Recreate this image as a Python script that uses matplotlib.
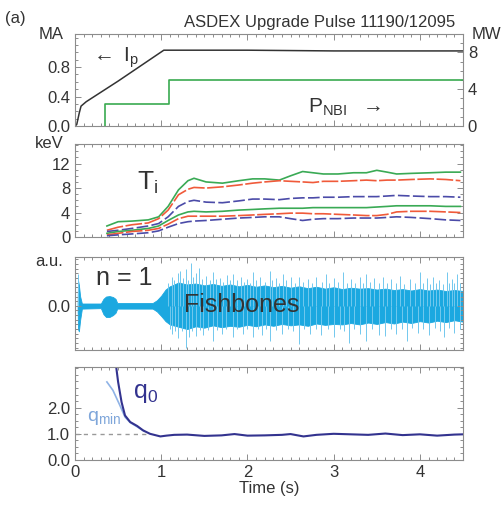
import numpy as np
import matplotlib
matplotlib.use("Agg")
import matplotlib.pyplot as plt
from matplotlib.ticker import MultipleLocator

plt.rcParams['font.family'] = ['Liberation Sans', 'DejaVu Sans']
plt.rcParams['mathtext.default'] = 'regular'

# ---- panel 1: plasma current and NBI power ----
ip_t = [0.0, 0.02, 0.05, 0.07, 0.13, 0.5, 1.03, 1.06, 2.0, 3.0, 4.5]
ip_ma = [0.0, 0.02, 0.18, 0.27, 0.33, 0.61, 1.03, 1.03, 1.03, 1.02, 1.02]
nbi_t = [0.35, 0.35, 1.09, 4.5]
nbi_mw = [0.0, 2.4, 5.0, 5.0]

# ---- panel 2: ion temperatures ----
ti_t = [0.37, 0.5, 0.66, 0.85, 0.97, 1.08, 1.2, 1.31, 1.38, 1.52, 1.71, 1.9,
        2.06, 2.2, 2.37, 2.5, 2.64, 2.76, 2.88, 3.05, 3.23, 3.38, 3.5, 3.62,
        3.73, 3.9, 4.12, 4.3, 4.47]
ti_green_hi = [1.8, 2.5, 2.6, 2.8, 3.3, 5.0, 7.7, 9.2, 9.6, 9.0, 8.8, 9.2,
               9.5, 9.5, 9.3, 10.0, 10.7, 10.5, 10.3, 10.3, 10.5, 10.5, 10.9,
               10.6, 10.3, 10.4, 10.5, 10.6, 10.6]
ti_red_hi = [1.1, 1.6, 2.0, 2.3, 3.0, 4.4, 6.9, 7.8, 8.1, 8.0, 8.2, 8.5, 8.8,
             9.0, 9.2, 9.1, 9.0, 8.9, 9.1, 9.1, 9.2, 9.3, 9.2, 9.3, 9.3, 9.4,
             9.5, 9.4, 9.2]
ti_blue_hi = [0.9, 1.1, 1.4, 1.8, 2.2, 3.3, 5.0, 5.8, 6.0, 5.7, 5.6, 5.9, 6.2,
              6.2, 6.1, 6.3, 6.4, 6.4, 6.5, 6.5, 6.6, 6.6, 6.6, 6.7, 6.8, 6.7,
              6.6, 6.6, 6.5]
ti_green_lo = [0.6, 0.9, 1.1, 1.4, 1.8, 2.7, 3.6, 4.1, 4.2, 4.1, 4.2, 4.4, 4.5,
               4.6, 4.7, 4.7, 4.7, 4.8, 4.8, 4.8, 4.8, 4.8, 4.9, 5.0, 5.1, 5.1,
               5.1, 5.0, 5.0]
ti_red_lo = [0.35, 0.6, 0.9, 1.1, 1.4, 2.1, 3.0, 3.4, 3.4, 3.4, 3.4, 3.5, 3.6,
             3.7, 3.8, 3.9, 3.9, 3.8, 3.8, 3.7, 3.6, 3.5, 3.5, 3.7, 4.1, 4.2,
             4.2, 4.1, 4.0]
ti_blue_lo = [0.2, 0.35, 0.5, 0.7, 1.0, 1.6, 2.2, 2.5, 2.6, 2.7, 2.9, 3.1, 3.2,
              3.3, 3.3, 3.0, 2.7, 2.9, 3.0, 3.0, 3.1, 3.1, 3.1, 3.2, 3.3, 3.2,
              3.0, 2.8, 2.7]

# ---- panel 3: n=1 mode amplitude (envelope + spikes) ----
fb_t = [0.03, 0.035, 0.045, 0.06, 0.08, 0.3, 0.33, 0.36, 0.4, 0.44, 0.47, 0.49,
        0.9, 0.95, 1.0, 1.05, 1.1, 1.2, 1.3, 1.4, 1.5, 1.6, 1.7, 1.8, 1.9, 2.0,
        2.1, 2.2, 2.3, 2.4, 2.5, 2.6, 2.7, 2.8, 2.9, 3.0, 3.1, 3.2, 3.3, 3.4,
        3.5, 3.6, 3.7, 3.8, 3.9, 4.0, 4.1, 4.2, 4.3, 4.4, 4.5]
fb_hi = [0.05, 0.55, 0.45, 0.2, 0.05, 0.05, 0.15, 0.2, 0.21, 0.19, 0.15, 0.06,
         0.06, 0.12, 0.22, 0.35, 0.42, 0.50, 0.46, 0.48, 0.44, 0.47, 0.43, 0.46,
         0.42, 0.45, 0.41, 0.44, 0.40, 0.43, 0.39, 0.42, 0.38, 0.41, 0.37, 0.40,
         0.36, 0.39, 0.37, 0.38, 0.35, 0.37, 0.34, 0.36, 0.33, 0.36, 0.33, 0.35,
         0.32, 0.34, 0.32]
fb_lo = [-0.05, -0.5, -0.55, -0.3, -0.06, -0.05, -0.18, -0.24, -0.24, -0.2,
         -0.15, -0.06, -0.06, -0.12, -0.22, -0.33, -0.40, -0.45, -0.50, -0.44,
         -0.47, -0.42, -0.46, -0.43, -0.45, -0.41, -0.44, -0.40, -0.43, -0.39,
         -0.42, -0.40, -0.43, -0.38, -0.41, -0.39, -0.40, -0.37, -0.40, -0.36,
         -0.39, -0.35, -0.38, -0.34, -0.37, -0.33, -0.36, -0.32, -0.35, -0.31,
         -0.34]
spike_up_t = [0.04, 1.08, 1.12, 1.15, 1.19, 1.22, 1.25, 1.29, 1.31, 1.34, 1.37,
              1.40, 1.44, 1.47, 1.52, 1.56, 1.60, 1.64, 1.68, 1.72, 1.76, 1.80,
              1.83, 1.88, 1.92, 1.96, 2.00, 2.03, 2.06, 2.10, 2.15, 2.20, 2.26,
              2.29, 2.33, 2.37, 2.41, 2.45, 2.50, 2.55, 2.60, 2.65, 2.70, 2.75,
              2.80, 2.86, 2.91, 2.95, 3.00, 3.05, 3.11, 3.15, 3.20, 3.25, 3.30,
              3.34, 3.38, 3.42, 3.47, 3.52, 3.57, 3.62, 3.66, 3.72, 3.77, 3.82,
              3.88, 3.94, 4.00, 4.04, 4.08, 4.12, 4.15, 4.19, 4.22, 4.27, 4.31,
              4.34, 4.37, 4.40, 4.43, 4.47]
spike_up = [0.68, 0.5, 0.62, 0.55, 0.7, 0.75, 0.6, 0.79, 0.55, 0.93, 0.62,
            0.7, 0.82, 0.58, 0.65, 0.55, 0.72, 0.58, 0.6, 0.52, 0.66, 0.55,
            0.68, 0.55, 0.62, 0.52, 0.58, 0.5, 0.72, 0.55, 0.62, 0.52, 0.75,
            0.55, 0.6, 0.5, 0.68, 0.55, 0.62, 0.5, 0.61, 0.52, 0.58, 0.5,
            0.62, 0.52, 0.68, 0.5, 0.6, 0.52, 0.72, 0.5, 0.58, 0.5, 0.62,
            0.5, 0.68, 0.52, 0.6, 0.5, 0.61, 0.5, 0.58, 0.5, 0.64, 0.48,
            0.58, 0.5, 0.72, 0.5, 0.6, 0.48, 0.61, 0.5, 0.55, 0.48, 0.72,
            0.5, 0.58, 0.5, 0.68, 0.5]
spike_dn_t = [1.10, 1.12, 1.16, 1.20, 1.24, 1.29, 1.32, 1.36, 1.40, 1.45, 1.49,
              1.54, 1.60, 1.65, 1.70, 1.75, 1.83, 1.88, 1.95, 2.00, 2.06, 2.12,
              2.17, 2.22, 2.26, 2.33, 2.40, 2.47, 2.53, 2.60, 2.66, 2.72, 2.79,
              2.85, 2.93, 3.00, 3.07, 3.12, 3.18, 3.24, 3.30, 3.38, 3.45, 3.52,
              3.60, 3.66, 3.72, 3.79, 3.85, 3.91, 3.98, 4.04, 4.10, 4.17, 4.23,
              4.28, 4.34, 4.40, 4.46]
spike_dn = [-0.5, -0.6, -0.55, -0.7, -0.55, -0.9, -0.68, -0.55, -0.65, -0.52,
            -0.62, -0.52, -0.75, -0.52, -0.6, -0.5, -0.68, -0.5, -0.6, -0.5,
            -0.68, -0.5, -0.62, -0.5, -0.75, -0.52, -0.6, -0.5, -0.55, -0.82,
            -0.5, -0.6, -0.5, -0.62, -0.5, -0.68, -0.5, -0.55, -0.79, -0.5,
            -0.6, -0.75, -0.5, -0.62, -0.65, -0.5, -0.6, -0.5, -0.75, -0.48,
            -0.58, -0.5, -0.62, -0.48, -0.55, -0.68, -0.48, -0.58, -0.5]

# ---- panel 4: safety factor ----
q0_t = [0.476, 0.50, 0.54, 0.58, 0.64, 0.72, 0.79, 0.87, 0.99, 1.06, 1.15,
        1.3, 1.5, 1.7, 1.85, 2.0, 2.2, 2.4, 2.5, 2.65, 2.8, 3.0, 3.2, 3.4,
        3.6, 3.8, 4.0, 4.2, 4.4, 4.5]
q0 = [3.6, 2.98, 2.21, 1.7, 1.45, 1.30, 1.13, 1.0, 0.90, 0.93, 0.96, 0.97,
      0.92, 0.94, 0.99, 0.93, 0.94, 0.96, 0.99, 0.90, 0.96, 1.0, 0.98, 0.96,
      1.01, 0.95, 0.98, 0.93, 0.97, 0.98]
qmin_t = [0.37, 0.44, 0.52, 0.58, 0.64, 0.72, 0.8]
qmin = [2.98, 2.66, 2.09, 1.64, 1.43, 1.27, 1.1]

TXT = '#333333'
SPN = '#8c8c8c'
L, W = 75 / 504, 388 / 504


def style(ax, labels_x=False):
    ax.set_xlim(0, 4.5)
    ax.xaxis.set_major_locator(MultipleLocator(1))
    ax.xaxis.set_minor_locator(MultipleLocator(0.1))
    ax.tick_params(which='both', direction='in', top=True, right=True,
                   color=SPN, labelsize=12, labelcolor=TXT, width=0.7)
    ax.tick_params(which='major', length=4)
    ax.tick_params(which='minor', length=2)
    for s in ax.spines.values():
        s.set_color(SPN)
        s.set_linewidth(0.8)
    if not labels_x:
        ax.tick_params(axis='x', labelbottom=False)


fig = plt.figure(figsize=(5.04, 5.05), dpi=100)

# panel 1
ax1 = fig.add_axes([L, 1 - 126 / 505, W, 92 / 505])
ax1.plot(ip_t, ip_ma, color='#333333', lw=1.1)
ax1.set_ylim(0, 1.25)
ax1.set_yticks([0.0, 0.4, 0.8])
ax1.set_yticklabels(['0.0', '0.4', '0.8'])
ax1.yaxis.set_minor_locator(MultipleLocator(0.1))
style(ax1)
ax1.tick_params(axis='y', right=False, which='both')
ax1r = ax1.twinx()
ax1r.plot(nbi_t, nbi_mw, color='#3aaa50', lw=1.2, drawstyle='steps-post')
ax1r.set_ylim(0, 10)
ax1r.set_yticks([0, 4, 8])
ax1r.yaxis.set_minor_locator(MultipleLocator(1))
ax1r.tick_params(which='both', direction='in', color=SPN, labelsize=12,
                 labelcolor=TXT, width=0.7)
ax1r.tick_params(which='major', length=4)
ax1r.tick_params(which='minor', length=2)
for s in ax1r.spines.values():
    s.set_visible(False)
ax1.text(-0.03, 1.0, 'MA', transform=ax1.transAxes, ha='right', va='center',
         fontsize=12, color=TXT)
ax1.text(1.023, 1.0, 'MW', transform=ax1.transAxes, ha='left', va='center',
         fontsize=12, color=TXT)
ax1.text(0.979, 1.12, 'ASDEX Upgrade Pulse 11190/12095', transform=ax1.transAxes,
         ha='right', va='center', fontsize=12, color=TXT)
ax1.text(0.035, 0.74, r'$\leftarrow$ I$_p$', transform=ax1.transAxes,
         ha='left', va='center', fontsize=15, color=TXT)
ax1.text(0.6, 0.2, r'P$_{NBI}$  $\rightarrow$', transform=ax1.transAxes,
         ha='left', va='center', fontsize=15, color=TXT)
fig.text(5 / 504, 1 - 18 / 505, '(a)', ha='left', va='center', fontsize=12,
         color=TXT)

# panel 2
ax2 = fig.add_axes([L, 1 - 237 / 505, W, 93 / 505])
green, red, blue = '#3aaa55', '#f05a3a', '#4b4ba8'
ax2.plot(ti_t, ti_green_hi, color=green, lw=1.2)
ax2.plot(ti_t, ti_red_hi, color=red, lw=1.2, ls=(0, (10, 1.5)))
ax2.plot(ti_t, ti_blue_hi, color=blue, lw=1.2, ls=(0, (7, 2)))
ax2.plot(ti_t, ti_green_lo, color=green, lw=1.2)
ax2.plot(ti_t, ti_red_lo, color=red, lw=1.2, ls=(0, (10, 1.5)))
ax2.plot(ti_t, ti_blue_lo, color=blue, lw=1.2, ls=(0, (7, 2)))
ax2.set_ylim(0, 15.2)
ax2.set_yticks([0, 4, 8, 12])
ax2.yaxis.set_minor_locator(MultipleLocator(1))
style(ax2)
ax2.text(-0.03, 1.0, 'keV', transform=ax2.transAxes, ha='right', va='center',
         fontsize=12, color=TXT)
ax2.text(0.16, 0.58, r'T$_i$', transform=ax2.transAxes, ha='left', va='center',
         fontsize=19, color=TXT)

# panel 3
ax3 = fig.add_axes([L, 1 - 350 / 505, W, 93 / 505])
ax3.vlines(spike_up_t, 0, spike_up, color='#72c8ee', lw=0.7)
ax3.vlines(spike_dn_t, spike_dn, 0, color='#72c8ee', lw=0.7)
ax3.fill_between(fb_t, fb_lo, fb_hi, color='#1ba8e0', lw=0.6, edgecolor='#1ba8e0')
ax3.set_ylim(-0.95, 1.05)
ax3.set_yticks([0.0])
ax3.set_yticklabels(['0.0'])
ax3.yaxis.set_minor_locator(MultipleLocator(0.1))
style(ax3)
ax3.text(-0.03, 0.95, 'a.u.', transform=ax3.transAxes, ha='right', va='center',
         fontsize=12, color=TXT)
ax3.text(0.055, 0.77, 'n = 1', transform=ax3.transAxes, ha='left', va='center',
         fontsize=18, color=TXT)
ax3.text(0.28, 0.48, 'Fishbones', transform=ax3.transAxes, ha='left', va='center',
         fontsize=18, color=TXT)

# panel 4
ax4 = fig.add_axes([L, 1 - 460 / 505, W, 93 / 505])
ax4.plot([0, 0.85], [1.0, 1.0], color='#999999', lw=1.0, ls=(0, (3, 3)))
ax4.plot(qmin_t, qmin, color='#8fb3e6', lw=1.2)
ax4.plot(q0_t, q0, color='#33338f', lw=1.5)
ax4.set_ylim(0, 3.55)
ax4.set_yticks([0.0, 1.0, 2.0])
ax4.set_yticklabels(['0.0', '1.0', '2.0'])
ax4.yaxis.set_minor_locator(MultipleLocator(0.25))
style(ax4, labels_x=True)
ax4.set_xticks([0, 1, 2, 3, 4])
ax4.set_xlabel('Time (s)', fontsize=12, color=TXT, labelpad=1)
ax4.text(0.15, 0.72, r'q$_0$', transform=ax4.transAxes, ha='left', va='center',
         fontsize=18, color='#33338f')
ax4.text(0.03, 0.45, r'q$_{min}$', transform=ax4.transAxes, ha='left',
         va='center', fontsize=14, color='#7fa6da')

fig.savefig('out.png', dpi=100)
